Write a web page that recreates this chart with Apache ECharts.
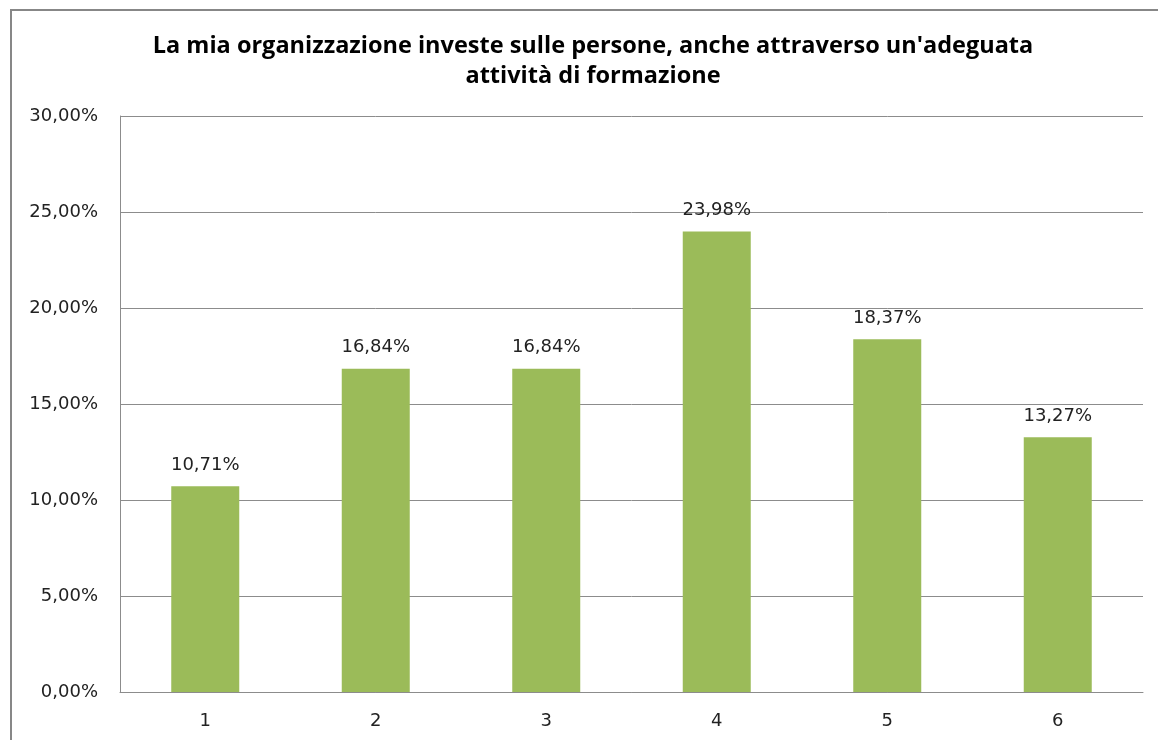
<!DOCTYPE html>
<html>
<head>
<meta charset="utf-8">
<script src="https://cdn.jsdelivr.net/npm/echarts@6/dist/echarts.min.js"></script>
<style>
html, body { margin: 0; padding: 0; background: #fff; }
#main { width: 1158px; height: 740px; }
</style>
</head>
<body>
<div id="main"></div>
<script>
var categorie = ['1', '2', '3', '4', '5', '6'];
var valori = [10.71, 16.84, 16.84, 23.98, 18.37, 13.27];

function perc(v) {
    return v.toFixed(2).replace('.', ',') + '%';
}

var chart = echarts.init(document.getElementById('main'));
var option = {
    animation: false,
    backgroundColor: '#fff',
    title: {
        text: "La mia organizzazione investe sulle persone, anche attraverso un'adeguata\nattività di formazione",
        left: 588,
        top: 26,
        textAlign: 'center',
        textStyle: {
            fontFamily: 'Open Sans',
            fontWeight: 'bold',
            fontSize: 23.5,
            lineHeight: 30,
            color: '#000'
        }
    },
    graphic: [{
        type: 'rect',
        shape: { x: 11, y: 10, width: 1170, height: 760 },
        style: { fill: 'none', stroke: '#878787', lineWidth: 2 },
        silent: true
    }],
    grid: {
        left: 120,
        top: 116,
        right: 15,
        bottom: 48,
        containLabel: false
    },
    xAxis: {
        type: 'category',
        data: categorie,
        axisLine: { lineStyle: { color: '#8c8c8c', width: 1 } },
        axisTick: { show: false },
        axisLabel: {
            margin: 20,
            fontFamily: 'DejaVu Sans',
            fontSize: 18,
            color: '#222'
        }
    },
    yAxis: {
        type: 'value',
        min: 0,
        max: 30,
        interval: 5,
        axisLine: { show: true, lineStyle: { color: '#8c8c8c', width: 1 } },
        axisTick: { show: false },
        splitLine: { lineStyle: { color: '#8c8c8c', width: 1 } },
        axisLabel: {
            margin: 22,
            fontFamily: 'DejaVu Sans',
            fontSize: 18,
            color: '#222',
            formatter: function (v) { return perc(v); }
        }
    },
    series: [{
        type: 'bar',
        data: valori,
        barWidth: 68,
        itemStyle: { color: '#9bbb59' },
        label: {
            show: true,
            position: 'top',
            distance: 12,
            fontFamily: 'DejaVu Sans',
            fontSize: 18,
            color: '#222',
            formatter: function (p) { return perc(p.value); }
        }
    }]
};
chart.setOption(option);
</script>
</body>
</html>
